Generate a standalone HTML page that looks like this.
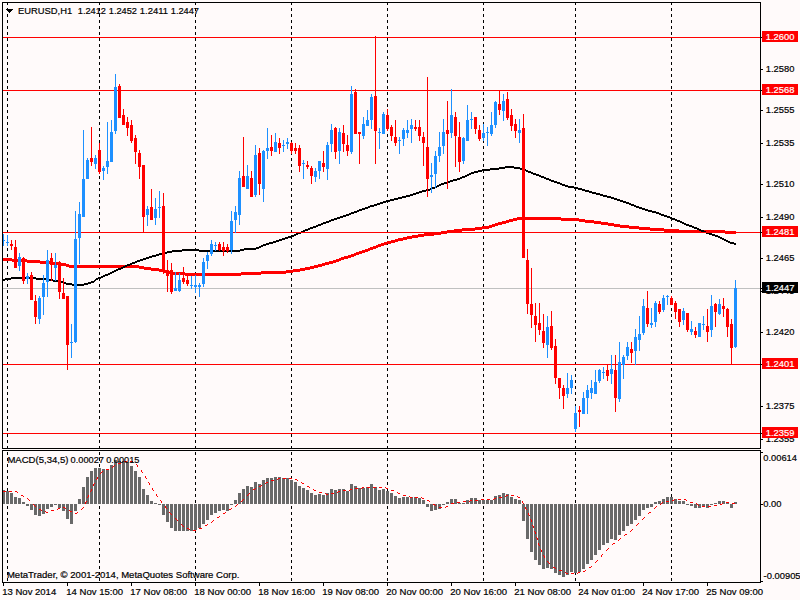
<!DOCTYPE html>
<html lang="en"><head><meta charset="utf-8"><title>EURUSD,H1</title>
<style>html,body{margin:0;padding:0;background:#FFFAFA;overflow:hidden}svg{display:block}text{font-family:'Liberation Sans', Arial, sans-serif;font-size:9.5px;fill:#000;stroke:#000;stroke-width:.2px}.w{fill:#fff;stroke:#fff}</style>
</head><body>
<svg width="800" height="600" viewBox="0 0 800 600">
<rect x="0" y="0" width="800" height="600" fill="#FFFAFA"/>
<g shape-rendering="crispEdges" fill="#000">
<path d="M7 3v2h1v-2zM7 8v3h1v-3zM7 14v3h1v-3zM7 20v3h1v-3zM7 26v3h1v-3zM7 32v3h1v-3zM7 38v3h1v-3zM7 44v3h1v-3zM7 50v3h1v-3zM7 56v3h1v-3zM7 62v3h1v-3zM7 68v3h1v-3zM7 74v3h1v-3zM7 80v3h1v-3zM7 86v3h1v-3zM7 92v3h1v-3zM7 98v3h1v-3zM7 104v3h1v-3zM7 110v3h1v-3zM7 116v3h1v-3zM7 122v3h1v-3zM7 128v3h1v-3zM7 134v3h1v-3zM7 140v3h1v-3zM7 146v3h1v-3zM7 152v3h1v-3zM7 158v3h1v-3zM7 164v3h1v-3zM7 170v3h1v-3zM7 176v3h1v-3zM7 182v3h1v-3zM7 188v3h1v-3zM7 194v3h1v-3zM7 200v3h1v-3zM7 206v3h1v-3zM7 212v3h1v-3zM7 218v3h1v-3zM7 224v3h1v-3zM7 230v3h1v-3zM7 236v3h1v-3zM7 242v3h1v-3zM7 248v3h1v-3zM7 254v3h1v-3zM7 260v3h1v-3zM7 266v3h1v-3zM7 272v3h1v-3zM7 278v3h1v-3zM7 284v3h1v-3zM7 290v3h1v-3zM7 296v3h1v-3zM7 302v3h1v-3zM7 308v3h1v-3zM7 314v3h1v-3zM7 320v3h1v-3zM7 326v3h1v-3zM7 332v3h1v-3zM7 338v3h1v-3zM7 344v3h1v-3zM7 350v3h1v-3zM7 356v3h1v-3zM7 362v3h1v-3zM7 368v3h1v-3zM7 374v3h1v-3zM7 380v3h1v-3zM7 386v3h1v-3zM7 392v3h1v-3zM7 398v3h1v-3zM7 404v3h1v-3zM7 410v3h1v-3zM7 416v3h1v-3zM7 422v3h1v-3zM7 428v3h1v-3zM7 434v3h1v-3zM7 440v3h1v-3zM7 446v2h1v-2zM7 452v3h1v-3zM7 458v3h1v-3zM7 464v3h1v-3zM7 470v3h1v-3zM7 476v3h1v-3zM7 482v3h1v-3zM7 488v3h1v-3zM7 494v3h1v-3zM7 500v3h1v-3zM7 506v3h1v-3zM7 512v3h1v-3zM7 518v3h1v-3zM7 524v3h1v-3zM7 530v3h1v-3zM7 536v3h1v-3zM7 542v3h1v-3zM7 548v3h1v-3zM7 554v3h1v-3zM7 560v3h1v-3zM7 566v3h1v-3zM7 572v3h1v-3zM7 578v3h1v-3zM99 3v2h1v-2zM99 8v3h1v-3zM99 14v3h1v-3zM99 20v3h1v-3zM99 26v3h1v-3zM99 32v3h1v-3zM99 38v3h1v-3zM99 44v3h1v-3zM99 50v3h1v-3zM99 56v3h1v-3zM99 62v3h1v-3zM99 68v3h1v-3zM99 74v3h1v-3zM99 80v3h1v-3zM99 86v3h1v-3zM99 92v3h1v-3zM99 98v3h1v-3zM99 104v3h1v-3zM99 110v3h1v-3zM99 116v3h1v-3zM99 122v3h1v-3zM99 128v3h1v-3zM99 134v3h1v-3zM99 140v3h1v-3zM99 146v3h1v-3zM99 152v3h1v-3zM99 158v3h1v-3zM99 164v3h1v-3zM99 170v3h1v-3zM99 176v3h1v-3zM99 182v3h1v-3zM99 188v3h1v-3zM99 194v3h1v-3zM99 200v3h1v-3zM99 206v3h1v-3zM99 212v3h1v-3zM99 218v3h1v-3zM99 224v3h1v-3zM99 230v3h1v-3zM99 236v3h1v-3zM99 242v3h1v-3zM99 248v3h1v-3zM99 254v3h1v-3zM99 260v3h1v-3zM99 266v3h1v-3zM99 272v3h1v-3zM99 278v3h1v-3zM99 284v3h1v-3zM99 290v3h1v-3zM99 296v3h1v-3zM99 302v3h1v-3zM99 308v3h1v-3zM99 314v3h1v-3zM99 320v3h1v-3zM99 326v3h1v-3zM99 332v3h1v-3zM99 338v3h1v-3zM99 344v3h1v-3zM99 350v3h1v-3zM99 356v3h1v-3zM99 362v3h1v-3zM99 368v3h1v-3zM99 374v3h1v-3zM99 380v3h1v-3zM99 386v3h1v-3zM99 392v3h1v-3zM99 398v3h1v-3zM99 404v3h1v-3zM99 410v3h1v-3zM99 416v3h1v-3zM99 422v3h1v-3zM99 428v3h1v-3zM99 434v3h1v-3zM99 440v3h1v-3zM99 446v2h1v-2zM99 452v3h1v-3zM99 458v3h1v-3zM99 464v3h1v-3zM99 470v3h1v-3zM99 476v3h1v-3zM99 482v3h1v-3zM99 488v3h1v-3zM99 494v3h1v-3zM99 500v3h1v-3zM99 506v3h1v-3zM99 512v3h1v-3zM99 518v3h1v-3zM99 524v3h1v-3zM99 530v3h1v-3zM99 536v3h1v-3zM99 542v3h1v-3zM99 548v3h1v-3zM99 554v3h1v-3zM99 560v3h1v-3zM99 566v3h1v-3zM99 572v3h1v-3zM99 578v3h1v-3zM195 3v2h1v-2zM195 8v3h1v-3zM195 14v3h1v-3zM195 20v3h1v-3zM195 26v3h1v-3zM195 32v3h1v-3zM195 38v3h1v-3zM195 44v3h1v-3zM195 50v3h1v-3zM195 56v3h1v-3zM195 62v3h1v-3zM195 68v3h1v-3zM195 74v3h1v-3zM195 80v3h1v-3zM195 86v3h1v-3zM195 92v3h1v-3zM195 98v3h1v-3zM195 104v3h1v-3zM195 110v3h1v-3zM195 116v3h1v-3zM195 122v3h1v-3zM195 128v3h1v-3zM195 134v3h1v-3zM195 140v3h1v-3zM195 146v3h1v-3zM195 152v3h1v-3zM195 158v3h1v-3zM195 164v3h1v-3zM195 170v3h1v-3zM195 176v3h1v-3zM195 182v3h1v-3zM195 188v3h1v-3zM195 194v3h1v-3zM195 200v3h1v-3zM195 206v3h1v-3zM195 212v3h1v-3zM195 218v3h1v-3zM195 224v3h1v-3zM195 230v3h1v-3zM195 236v3h1v-3zM195 242v3h1v-3zM195 248v3h1v-3zM195 254v3h1v-3zM195 260v3h1v-3zM195 266v3h1v-3zM195 272v3h1v-3zM195 278v3h1v-3zM195 284v3h1v-3zM195 290v3h1v-3zM195 296v3h1v-3zM195 302v3h1v-3zM195 308v3h1v-3zM195 314v3h1v-3zM195 320v3h1v-3zM195 326v3h1v-3zM195 332v3h1v-3zM195 338v3h1v-3zM195 344v3h1v-3zM195 350v3h1v-3zM195 356v3h1v-3zM195 362v3h1v-3zM195 368v3h1v-3zM195 374v3h1v-3zM195 380v3h1v-3zM195 386v3h1v-3zM195 392v3h1v-3zM195 398v3h1v-3zM195 404v3h1v-3zM195 410v3h1v-3zM195 416v3h1v-3zM195 422v3h1v-3zM195 428v3h1v-3zM195 434v3h1v-3zM195 440v3h1v-3zM195 446v2h1v-2zM195 452v3h1v-3zM195 458v3h1v-3zM195 464v3h1v-3zM195 470v3h1v-3zM195 476v3h1v-3zM195 482v3h1v-3zM195 488v3h1v-3zM195 494v3h1v-3zM195 500v3h1v-3zM195 506v3h1v-3zM195 512v3h1v-3zM195 518v3h1v-3zM195 524v3h1v-3zM195 530v3h1v-3zM195 536v3h1v-3zM195 542v3h1v-3zM195 548v3h1v-3zM195 554v3h1v-3zM195 560v3h1v-3zM195 566v3h1v-3zM195 572v3h1v-3zM195 578v3h1v-3zM291 3v2h1v-2zM291 8v3h1v-3zM291 14v3h1v-3zM291 20v3h1v-3zM291 26v3h1v-3zM291 32v3h1v-3zM291 38v3h1v-3zM291 44v3h1v-3zM291 50v3h1v-3zM291 56v3h1v-3zM291 62v3h1v-3zM291 68v3h1v-3zM291 74v3h1v-3zM291 80v3h1v-3zM291 86v3h1v-3zM291 92v3h1v-3zM291 98v3h1v-3zM291 104v3h1v-3zM291 110v3h1v-3zM291 116v3h1v-3zM291 122v3h1v-3zM291 128v3h1v-3zM291 134v3h1v-3zM291 140v3h1v-3zM291 146v3h1v-3zM291 152v3h1v-3zM291 158v3h1v-3zM291 164v3h1v-3zM291 170v3h1v-3zM291 176v3h1v-3zM291 182v3h1v-3zM291 188v3h1v-3zM291 194v3h1v-3zM291 200v3h1v-3zM291 206v3h1v-3zM291 212v3h1v-3zM291 218v3h1v-3zM291 224v3h1v-3zM291 230v3h1v-3zM291 236v3h1v-3zM291 242v3h1v-3zM291 248v3h1v-3zM291 254v3h1v-3zM291 260v3h1v-3zM291 266v3h1v-3zM291 272v3h1v-3zM291 278v3h1v-3zM291 284v3h1v-3zM291 290v3h1v-3zM291 296v3h1v-3zM291 302v3h1v-3zM291 308v3h1v-3zM291 314v3h1v-3zM291 320v3h1v-3zM291 326v3h1v-3zM291 332v3h1v-3zM291 338v3h1v-3zM291 344v3h1v-3zM291 350v3h1v-3zM291 356v3h1v-3zM291 362v3h1v-3zM291 368v3h1v-3zM291 374v3h1v-3zM291 380v3h1v-3zM291 386v3h1v-3zM291 392v3h1v-3zM291 398v3h1v-3zM291 404v3h1v-3zM291 410v3h1v-3zM291 416v3h1v-3zM291 422v3h1v-3zM291 428v3h1v-3zM291 434v3h1v-3zM291 440v3h1v-3zM291 446v2h1v-2zM291 452v3h1v-3zM291 458v3h1v-3zM291 464v3h1v-3zM291 470v3h1v-3zM291 476v3h1v-3zM291 482v3h1v-3zM291 488v3h1v-3zM291 494v3h1v-3zM291 500v3h1v-3zM291 506v3h1v-3zM291 512v3h1v-3zM291 518v3h1v-3zM291 524v3h1v-3zM291 530v3h1v-3zM291 536v3h1v-3zM291 542v3h1v-3zM291 548v3h1v-3zM291 554v3h1v-3zM291 560v3h1v-3zM291 566v3h1v-3zM291 572v3h1v-3zM291 578v3h1v-3zM387 3v2h1v-2zM387 8v3h1v-3zM387 14v3h1v-3zM387 20v3h1v-3zM387 26v3h1v-3zM387 32v3h1v-3zM387 38v3h1v-3zM387 44v3h1v-3zM387 50v3h1v-3zM387 56v3h1v-3zM387 62v3h1v-3zM387 68v3h1v-3zM387 74v3h1v-3zM387 80v3h1v-3zM387 86v3h1v-3zM387 92v3h1v-3zM387 98v3h1v-3zM387 104v3h1v-3zM387 110v3h1v-3zM387 116v3h1v-3zM387 122v3h1v-3zM387 128v3h1v-3zM387 134v3h1v-3zM387 140v3h1v-3zM387 146v3h1v-3zM387 152v3h1v-3zM387 158v3h1v-3zM387 164v3h1v-3zM387 170v3h1v-3zM387 176v3h1v-3zM387 182v3h1v-3zM387 188v3h1v-3zM387 194v3h1v-3zM387 200v3h1v-3zM387 206v3h1v-3zM387 212v3h1v-3zM387 218v3h1v-3zM387 224v3h1v-3zM387 230v3h1v-3zM387 236v3h1v-3zM387 242v3h1v-3zM387 248v3h1v-3zM387 254v3h1v-3zM387 260v3h1v-3zM387 266v3h1v-3zM387 272v3h1v-3zM387 278v3h1v-3zM387 284v3h1v-3zM387 290v3h1v-3zM387 296v3h1v-3zM387 302v3h1v-3zM387 308v3h1v-3zM387 314v3h1v-3zM387 320v3h1v-3zM387 326v3h1v-3zM387 332v3h1v-3zM387 338v3h1v-3zM387 344v3h1v-3zM387 350v3h1v-3zM387 356v3h1v-3zM387 362v3h1v-3zM387 368v3h1v-3zM387 374v3h1v-3zM387 380v3h1v-3zM387 386v3h1v-3zM387 392v3h1v-3zM387 398v3h1v-3zM387 404v3h1v-3zM387 410v3h1v-3zM387 416v3h1v-3zM387 422v3h1v-3zM387 428v3h1v-3zM387 434v3h1v-3zM387 440v3h1v-3zM387 446v2h1v-2zM387 452v3h1v-3zM387 458v3h1v-3zM387 464v3h1v-3zM387 470v3h1v-3zM387 476v3h1v-3zM387 482v3h1v-3zM387 488v3h1v-3zM387 494v3h1v-3zM387 500v3h1v-3zM387 506v3h1v-3zM387 512v3h1v-3zM387 518v3h1v-3zM387 524v3h1v-3zM387 530v3h1v-3zM387 536v3h1v-3zM387 542v3h1v-3zM387 548v3h1v-3zM387 554v3h1v-3zM387 560v3h1v-3zM387 566v3h1v-3zM387 572v3h1v-3zM387 578v3h1v-3zM483 3v2h1v-2zM483 8v3h1v-3zM483 14v3h1v-3zM483 20v3h1v-3zM483 26v3h1v-3zM483 32v3h1v-3zM483 38v3h1v-3zM483 44v3h1v-3zM483 50v3h1v-3zM483 56v3h1v-3zM483 62v3h1v-3zM483 68v3h1v-3zM483 74v3h1v-3zM483 80v3h1v-3zM483 86v3h1v-3zM483 92v3h1v-3zM483 98v3h1v-3zM483 104v3h1v-3zM483 110v3h1v-3zM483 116v3h1v-3zM483 122v3h1v-3zM483 128v3h1v-3zM483 134v3h1v-3zM483 140v3h1v-3zM483 146v3h1v-3zM483 152v3h1v-3zM483 158v3h1v-3zM483 164v3h1v-3zM483 170v3h1v-3zM483 176v3h1v-3zM483 182v3h1v-3zM483 188v3h1v-3zM483 194v3h1v-3zM483 200v3h1v-3zM483 206v3h1v-3zM483 212v3h1v-3zM483 218v3h1v-3zM483 224v3h1v-3zM483 230v3h1v-3zM483 236v3h1v-3zM483 242v3h1v-3zM483 248v3h1v-3zM483 254v3h1v-3zM483 260v3h1v-3zM483 266v3h1v-3zM483 272v3h1v-3zM483 278v3h1v-3zM483 284v3h1v-3zM483 290v3h1v-3zM483 296v3h1v-3zM483 302v3h1v-3zM483 308v3h1v-3zM483 314v3h1v-3zM483 320v3h1v-3zM483 326v3h1v-3zM483 332v3h1v-3zM483 338v3h1v-3zM483 344v3h1v-3zM483 350v3h1v-3zM483 356v3h1v-3zM483 362v3h1v-3zM483 368v3h1v-3zM483 374v3h1v-3zM483 380v3h1v-3zM483 386v3h1v-3zM483 392v3h1v-3zM483 398v3h1v-3zM483 404v3h1v-3zM483 410v3h1v-3zM483 416v3h1v-3zM483 422v3h1v-3zM483 428v3h1v-3zM483 434v3h1v-3zM483 440v3h1v-3zM483 446v2h1v-2zM483 452v3h1v-3zM483 458v3h1v-3zM483 464v3h1v-3zM483 470v3h1v-3zM483 476v3h1v-3zM483 482v3h1v-3zM483 488v3h1v-3zM483 494v3h1v-3zM483 500v3h1v-3zM483 506v3h1v-3zM483 512v3h1v-3zM483 518v3h1v-3zM483 524v3h1v-3zM483 530v3h1v-3zM483 536v3h1v-3zM483 542v3h1v-3zM483 548v3h1v-3zM483 554v3h1v-3zM483 560v3h1v-3zM483 566v3h1v-3zM483 572v3h1v-3zM483 578v3h1v-3zM575 3v2h1v-2zM575 8v3h1v-3zM575 14v3h1v-3zM575 20v3h1v-3zM575 26v3h1v-3zM575 32v3h1v-3zM575 38v3h1v-3zM575 44v3h1v-3zM575 50v3h1v-3zM575 56v3h1v-3zM575 62v3h1v-3zM575 68v3h1v-3zM575 74v3h1v-3zM575 80v3h1v-3zM575 86v3h1v-3zM575 92v3h1v-3zM575 98v3h1v-3zM575 104v3h1v-3zM575 110v3h1v-3zM575 116v3h1v-3zM575 122v3h1v-3zM575 128v3h1v-3zM575 134v3h1v-3zM575 140v3h1v-3zM575 146v3h1v-3zM575 152v3h1v-3zM575 158v3h1v-3zM575 164v3h1v-3zM575 170v3h1v-3zM575 176v3h1v-3zM575 182v3h1v-3zM575 188v3h1v-3zM575 194v3h1v-3zM575 200v3h1v-3zM575 206v3h1v-3zM575 212v3h1v-3zM575 218v3h1v-3zM575 224v3h1v-3zM575 230v3h1v-3zM575 236v3h1v-3zM575 242v3h1v-3zM575 248v3h1v-3zM575 254v3h1v-3zM575 260v3h1v-3zM575 266v3h1v-3zM575 272v3h1v-3zM575 278v3h1v-3zM575 284v3h1v-3zM575 290v3h1v-3zM575 296v3h1v-3zM575 302v3h1v-3zM575 308v3h1v-3zM575 314v3h1v-3zM575 320v3h1v-3zM575 326v3h1v-3zM575 332v3h1v-3zM575 338v3h1v-3zM575 344v3h1v-3zM575 350v3h1v-3zM575 356v3h1v-3zM575 362v3h1v-3zM575 368v3h1v-3zM575 374v3h1v-3zM575 380v3h1v-3zM575 386v3h1v-3zM575 392v3h1v-3zM575 398v3h1v-3zM575 404v3h1v-3zM575 410v3h1v-3zM575 416v3h1v-3zM575 422v3h1v-3zM575 428v3h1v-3zM575 434v3h1v-3zM575 440v3h1v-3zM575 446v2h1v-2zM575 452v3h1v-3zM575 458v3h1v-3zM575 464v3h1v-3zM575 470v3h1v-3zM575 476v3h1v-3zM575 482v3h1v-3zM575 488v3h1v-3zM575 494v3h1v-3zM575 500v3h1v-3zM575 506v3h1v-3zM575 512v3h1v-3zM575 518v3h1v-3zM575 524v3h1v-3zM575 530v3h1v-3zM575 536v3h1v-3zM575 542v3h1v-3zM575 548v3h1v-3zM575 554v3h1v-3zM575 560v3h1v-3zM575 566v3h1v-3zM575 572v3h1v-3zM575 578v3h1v-3zM671 3v2h1v-2zM671 8v3h1v-3zM671 14v3h1v-3zM671 20v3h1v-3zM671 26v3h1v-3zM671 32v3h1v-3zM671 38v3h1v-3zM671 44v3h1v-3zM671 50v3h1v-3zM671 56v3h1v-3zM671 62v3h1v-3zM671 68v3h1v-3zM671 74v3h1v-3zM671 80v3h1v-3zM671 86v3h1v-3zM671 92v3h1v-3zM671 98v3h1v-3zM671 104v3h1v-3zM671 110v3h1v-3zM671 116v3h1v-3zM671 122v3h1v-3zM671 128v3h1v-3zM671 134v3h1v-3zM671 140v3h1v-3zM671 146v3h1v-3zM671 152v3h1v-3zM671 158v3h1v-3zM671 164v3h1v-3zM671 170v3h1v-3zM671 176v3h1v-3zM671 182v3h1v-3zM671 188v3h1v-3zM671 194v3h1v-3zM671 200v3h1v-3zM671 206v3h1v-3zM671 212v3h1v-3zM671 218v3h1v-3zM671 224v3h1v-3zM671 230v3h1v-3zM671 236v3h1v-3zM671 242v3h1v-3zM671 248v3h1v-3zM671 254v3h1v-3zM671 260v3h1v-3zM671 266v3h1v-3zM671 272v3h1v-3zM671 278v3h1v-3zM671 284v3h1v-3zM671 290v3h1v-3zM671 296v3h1v-3zM671 302v3h1v-3zM671 308v3h1v-3zM671 314v3h1v-3zM671 320v3h1v-3zM671 326v3h1v-3zM671 332v3h1v-3zM671 338v3h1v-3zM671 344v3h1v-3zM671 350v3h1v-3zM671 356v3h1v-3zM671 362v3h1v-3zM671 368v3h1v-3zM671 374v3h1v-3zM671 380v3h1v-3zM671 386v3h1v-3zM671 392v3h1v-3zM671 398v3h1v-3zM671 404v3h1v-3zM671 410v3h1v-3zM671 416v3h1v-3zM671 422v3h1v-3zM671 428v3h1v-3zM671 434v3h1v-3zM671 440v3h1v-3zM671 446v2h1v-2zM671 452v3h1v-3zM671 458v3h1v-3zM671 464v3h1v-3zM671 470v3h1v-3zM671 476v3h1v-3zM671 482v3h1v-3zM671 488v3h1v-3zM671 494v3h1v-3zM671 500v3h1v-3zM671 506v3h1v-3zM671 512v3h1v-3zM671 518v3h1v-3zM671 524v3h1v-3zM671 530v3h1v-3zM671 536v3h1v-3zM671 542v3h1v-3zM671 548v3h1v-3zM671 554v3h1v-3zM671 560v3h1v-3zM671 566v3h1v-3zM671 572v3h1v-3zM671 578v3h1v-3z"/>
</g>
<g shape-rendering="crispEdges">
<path fill="#FF0000" d="M3 258h9v3h-9zM12 259h15v3h-15zM27 260h13v3h-13zM40 261h11v3h-11zM51 262h10v3h-10zM61 263h5v3h-5zM66 264h3v3h-3zM69 265h70v3h-70zM139 266h5v3h-5zM144 267h7v3h-7zM151 268h8v3h-8zM159 269h5v3h-5zM164 270h4v3h-4zM168 271h4v3h-4zM172 272h13v3h-13zM185 273h56v3h-56zM241 272h20v3h-20zM261 271h25v3h-25zM286 270h7v3h-7zM293 269h7v3h-7zM300 268h5v3h-5zM305 267h5v3h-5zM310 266h4v3h-4zM314 265h4v3h-4zM318 264h4v3h-4zM322 263h3v3h-3zM325 262h4v3h-4zM329 261h4v3h-4zM333 260h3v3h-3zM336 259h3v3h-3zM339 258h2v3h-2zM341 257h3v3h-3zM344 256h4v3h-4zM348 255h3v3h-3zM351 254h3v3h-3zM354 253h2v3h-2zM356 252h3v3h-3zM359 251h3v3h-3zM362 250h3v3h-3zM365 249h3v3h-3zM368 248h2v3h-2zM370 247h3v3h-3zM373 246h3v3h-3zM376 245h2v3h-2zM378 244h3v3h-3zM381 243h3v3h-3zM384 242h3v3h-3zM387 241h4v3h-4zM391 240h4v3h-4zM395 239h3v3h-3zM398 238h5v3h-5zM403 237h4v3h-4zM407 236h5v3h-5zM412 235h6v3h-6zM418 234h6v3h-6zM424 233h10v3h-10zM434 232h7v3h-7zM441 231h6v3h-6zM447 230h7v3h-7zM454 229h8v3h-8zM462 228h13v3h-13zM475 227h7v3h-7zM482 226h7v3h-7zM489 225h3v3h-3zM492 224h3v3h-3zM495 223h3v3h-3zM498 222h4v3h-4zM502 221h4v3h-4zM506 220h3v3h-3zM509 219h4v3h-4zM513 218h4v3h-4zM517 217h44v3h-44zM561 218h18v3h-18zM579 219h6v3h-6zM585 220h9v3h-9zM594 221h7v3h-7zM601 222h7v3h-7zM608 223h6v3h-6zM614 224h6v3h-6zM620 225h9v3h-9zM629 226h10v3h-10zM639 227h11v3h-11zM650 228h14v3h-14zM664 229h15v3h-15zM679 230h46v3h-46zM725 231h11v3h-11z"/>
<path fill="#000" d="M3 279h2v2h-2zM5 278h6v2h-6zM11 277h25v2h-25zM36 278h10v2h-10zM46 279h7v2h-7zM53 280h5v2h-5zM58 281h5v2h-5zM63 282h3v2h-3zM66 283h6v2h-6zM72 284h12v2h-12zM84 283h4v2h-4zM88 282h3v2h-3zM91 281h3v2h-3zM94 280h1v2h-1zM95 279h1v2h-1zM96 278h2v2h-2zM98 277h3v2h-3zM101 276h2v2h-2zM103 275h2v2h-2zM105 274h3v2h-3zM108 273h2v2h-2zM110 272h2v2h-2zM112 271h2v2h-2zM114 270h2v2h-2zM116 269h2v2h-2zM118 268h3v2h-3zM121 267h2v2h-2zM123 266h2v2h-2zM125 265h2v2h-2zM127 264h3v2h-3zM130 263h2v2h-2zM132 262h3v2h-3zM135 261h2v2h-2zM137 260h3v2h-3zM140 259h3v2h-3zM143 258h3v2h-3zM146 257h3v2h-3zM149 256h3v2h-3zM152 255h4v2h-4zM156 254h3v2h-3zM159 253h4v2h-4zM163 252h4v2h-4zM167 251h5v2h-5zM172 250h10v2h-10zM182 249h17v2h-17zM199 250h41v2h-41zM240 249h4v2h-4zM244 248h12v2h-12zM256 247h3v2h-3zM259 246h2v2h-2zM261 245h2v2h-2zM263 244h3v2h-3zM266 243h3v2h-3zM269 242h4v2h-4zM273 241h3v2h-3zM276 240h3v2h-3zM279 239h3v2h-3zM282 238h3v2h-3zM285 237h3v2h-3zM288 236h3v2h-3zM291 235h3v2h-3zM294 234h2v2h-2zM296 233h2v2h-2zM298 232h3v2h-3zM301 231h2v2h-2zM303 230h2v2h-2zM305 229h3v2h-3zM308 228h2v2h-2zM310 227h3v2h-3zM313 226h3v2h-3zM316 225h2v2h-2zM318 224h3v2h-3zM321 223h2v2h-2zM323 222h3v2h-3zM326 221h3v2h-3zM329 220h2v2h-2zM331 219h3v2h-3zM334 218h3v2h-3zM337 217h3v2h-3zM340 216h3v2h-3zM343 215h3v2h-3zM346 214h3v2h-3zM349 213h2v2h-2zM351 212h3v2h-3zM354 211h3v2h-3zM357 210h2v2h-2zM359 209h3v2h-3zM362 208h3v2h-3zM365 207h3v2h-3zM368 206h2v2h-2zM370 205h4v2h-4zM374 204h3v2h-3zM377 203h3v2h-3zM380 202h3v2h-3zM383 201h3v2h-3zM386 200h4v2h-4zM390 199h4v2h-4zM394 198h4v2h-4zM398 197h4v2h-4zM402 196h4v2h-4zM406 195h4v2h-4zM410 194h3v2h-3zM413 193h3v2h-3zM416 192h3v2h-3zM419 191h3v2h-3zM422 190h4v2h-4zM426 189h4v2h-4zM430 188h2v2h-2zM432 187h3v2h-3zM435 186h2v2h-2zM437 185h2v2h-2zM439 184h2v2h-2zM441 183h3v2h-3zM444 182h3v2h-3zM447 181h3v2h-3zM450 180h3v2h-3zM453 179h4v2h-4zM457 178h3v2h-3zM460 177h2v2h-2zM462 176h3v2h-3zM465 175h2v2h-2zM467 174h2v2h-2zM469 173h2v2h-2zM471 172h3v2h-3zM474 171h4v2h-4zM478 170h4v2h-4zM482 169h8v2h-8zM490 168h9v2h-9zM499 167h6v2h-6zM505 166h9v2h-9zM514 167h6v2h-6zM520 168h4v2h-4zM524 169h2v2h-2zM526 170h2v2h-2zM528 171h3v2h-3zM531 172h2v2h-2zM533 173h3v2h-3zM536 174h3v2h-3zM539 175h2v2h-2zM541 176h3v2h-3zM544 177h2v2h-2zM546 178h3v2h-3zM549 179h2v2h-2zM551 180h3v2h-3zM554 181h3v2h-3zM557 182h3v2h-3zM560 183h2v2h-2zM562 184h3v2h-3zM565 185h3v2h-3zM568 186h6v2h-6zM574 187h4v2h-4zM578 188h4v2h-4zM582 189h3v2h-3zM585 190h4v2h-4zM589 191h3v2h-3zM592 192h4v2h-4zM596 193h4v2h-4zM600 194h3v2h-3zM603 195h4v2h-4zM607 196h4v2h-4zM611 197h3v2h-3zM614 198h3v2h-3zM617 199h3v2h-3zM620 200h3v2h-3zM623 201h3v2h-3zM626 202h3v2h-3zM629 203h2v2h-2zM631 204h3v2h-3zM634 205h2v2h-2zM636 206h3v2h-3zM639 207h3v2h-3zM642 208h3v2h-3zM645 209h3v2h-3zM648 210h4v2h-4zM652 211h4v2h-4zM656 212h3v2h-3zM659 213h2v2h-2zM661 214h3v2h-3zM664 215h3v2h-3zM667 216h3v2h-3zM670 217h2v2h-2zM672 218h3v2h-3zM675 219h2v2h-2zM677 220h3v2h-3zM680 221h2v2h-2zM682 222h2v2h-2zM684 223h2v2h-2zM686 224h3v2h-3zM689 225h3v2h-3zM692 226h2v2h-2zM694 227h3v2h-3zM697 228h2v2h-2zM699 229h2v2h-2zM701 230h3v2h-3zM704 231h2v2h-2zM706 232h3v2h-3zM709 233h3v2h-3zM712 234h3v2h-3zM715 235h3v2h-3zM718 236h2v2h-2zM720 237h2v2h-2zM722 238h2v2h-2zM724 239h2v2h-2zM726 240h2v2h-2zM728 241h2v2h-2zM730 242h4v2h-4zM734 243h2v2h-2z"/>
</g>
<g shape-rendering="crispEdges">
<rect x="3" y="288" width="757" height="1" fill="#C0C0C0"/>
<rect x="3" y="37" width="757" height="1" fill="#FF0000"/>
<rect x="3" y="90" width="757" height="1" fill="#FF0000"/>
<rect x="3" y="232" width="757" height="1" fill="#FF0000"/>
<rect x="3" y="364" width="757" height="1" fill="#FF0000"/>
<rect x="3" y="433" width="757" height="1" fill="#FF0000"/>
</g>
<g shape-rendering="crispEdges">
<path fill="#1E90FF" d="M3 234v12h1v-12zM2 240v1h3v-1zM7 235v11h1v-11zM6 242v1h3v-1zM19 253v18h1v-18zM18 257v9h3v-9zM27 273v11h1v-11zM26 276v3h3v-3zM39 296v28h1v-28zM38 298v21h3v-21zM43 275v40h1v-40zM42 283v14h3v-14zM47 250v47h1v-47zM46 260v22h3v-22zM55 253v28h1v-28zM54 265v3h3v-3zM71 324v34h1v-34zM70 342v1h3v-1zM75 211v132h1v-132zM74 239v103h3v-103zM79 202v62h1v-62zM78 214v24h3v-24zM83 130v87h1v-87zM82 179v38h3v-38zM87 158v21h1v-21zM86 160v19h3v-19zM95 155v14h1v-14zM94 158v6h3v-6zM103 166v14h1v-14zM102 168v3h3v-3zM107 122v52h1v-52zM106 161v6h3v-6zM111 120v42h1v-42zM110 132v30h3v-30zM115 74v60h1v-60zM114 87v44h3v-44zM147 206v20h1v-20zM146 209v6h3v-6zM155 198v27h1v-27zM154 209v9h3v-9zM159 191v27h1v-27zM158 207v1h3v-1zM175 272v19h1v-19zM174 288v3h3v-3zM179 273v19h1v-19zM178 280v11h3v-11zM191 276v13h1v-13zM190 285v1h3v-1zM195 275v18h1v-18zM194 285v2h3v-2zM199 283v14h1v-14zM198 285v2h3v-2zM203 258v29h1v-29zM202 262v22h3v-22zM207 252v17h1v-17zM206 255v6h3v-6zM211 240v16h1v-16zM210 244v10h3v-10zM215 242v9h1v-9zM214 245v1h3v-1zM231 211v43h1v-43zM230 221v29h3v-29zM235 206v27h1v-27zM234 212v8h3v-8zM239 171v54h1v-54zM238 178v37h3v-37zM247 165v24h1v-24zM246 176v13h3v-13zM255 145v52h1v-52zM254 155v40h3v-40zM263 150v52h1v-52zM262 151v38h3v-38zM267 128v31h1v-31zM266 148v3h3v-3zM275 133v19h1v-19zM274 142v10h3v-10zM283 140v12h1v-12zM282 145v1h3v-1zM287 138v11h1v-11zM286 142v2h3v-2zM303 160v19h1v-19zM302 163v1h3v-1zM315 168v14h1v-14zM314 171v6h3v-6zM319 161v18h1v-18zM318 161v10h3v-10zM327 142v38h1v-38zM326 145v24h3v-24zM331 124v28h1v-28zM330 130v14h3v-14zM339 128v36h1v-36zM338 132v19h3v-19zM351 86v68h1v-68zM350 94v58h3v-58zM363 117v22h1v-22zM362 124v12h3v-12zM367 110v16h1v-16zM366 120v6h3v-6zM371 94v35h1v-35zM370 97v23h3v-23zM379 128v21h1v-21zM378 132v1h3v-1zM383 112v22h1v-22zM382 114v20h3v-20zM399 137v17h1v-17zM398 140v1h3v-1zM403 128v18h1v-18zM402 130v9h3v-9zM407 120v18h1v-18zM406 130v3h3v-3zM411 119v24h1v-24zM410 125v4h3v-4zM431 163v30h1v-30zM430 175v2h3v-2zM435 151v37h1v-37zM434 156v18h3v-18zM439 132v30h1v-30zM438 147v9h3v-9zM443 119v35h1v-35zM442 132v14h3v-14zM451 89v49h1v-49zM450 115v18h3v-18zM463 137v27h1v-27zM462 138v23h3v-23zM467 105v36h1v-36zM466 120v21h3v-21zM471 112v17h1v-17zM470 119v1h3v-1zM483 124v17h1v-17zM482 133v5h3v-5zM487 127v19h1v-19zM486 132v1h3v-1zM491 112v24h1v-24zM490 125v9h3v-9zM495 101v27h1v-27zM494 102v23h3v-23zM503 94v27h1v-27zM502 101v10h3v-10zM519 119v24h1v-24zM518 130v3h3v-3zM547 316v42h1v-42zM546 327v18h3v-18zM567 373v25h1v-25zM566 388v6h3v-6zM571 375v19h1v-19zM570 380v8h3v-8zM575 406v26h1v-26zM574 413v16h3v-16zM583 392v22h1v-22zM582 398v16h3v-16zM587 385v29h1v-29zM586 390v8h3v-8zM591 380v19h1v-19zM590 388v5h3v-5zM595 370v24h1v-24zM594 382v12h3v-12zM599 369v14h1v-14zM598 370v11h3v-11zM603 367v12h1v-12zM602 372v1h3v-1zM611 355v29h1v-29zM610 369v5h3v-5zM619 342v60h1v-60zM618 362v37h3v-37zM623 355v24h1v-24zM622 357v8h3v-8zM627 342v18h1v-18zM626 347v9h3v-9zM635 329v36h1v-36zM634 337v14h3v-14zM639 316v35h1v-35zM638 334v6h3v-6zM643 299v36h1v-36zM642 306v27h3v-27zM651 308v20h1v-20zM650 323v2h3v-2zM655 301v26h1v-26zM654 303v19h3v-19zM663 295v17h1v-17zM662 298v12h3v-12zM667 295v10h1v-10zM666 296v1h3v-1zM683 308v17h1v-17zM682 311v9h3v-9zM691 321v14h1v-14zM690 329v3h3v-3zM699 323v14h1v-14zM698 323v14h3v-14zM703 316v14h1v-14zM702 324v1h3v-1zM711 295v42h1v-42zM710 306v24h3v-24zM719 299v16h1v-16zM718 304v10h3v-10zM735 280v68h1v-68zM734 288v59h3v-59z"/>
<path fill="#FF0000" d="M11 240v10h1v-10zM10 244v2h3v-2zM15 240v28h1v-28zM14 247v21h3v-21zM23 257v27h1v-27zM22 258v23h3v-23zM31 272v28h1v-28zM30 275v25h3v-25zM35 295v29h1v-29zM34 301v16h3v-16zM51 253v28h1v-28zM50 258v7h3v-7zM59 261v38h1v-38zM58 262v30h3v-30zM63 278v21h1v-21zM62 293v6h3v-6zM67 296v74h1v-74zM66 296v49h3v-49zM91 127v39h1v-39zM90 158v4h3v-4zM99 143v31h1v-31zM98 150v22h3v-22zM119 84v34h1v-34zM118 86v32h3v-32zM123 109v16h1v-16zM122 115v10h3v-10zM127 117v19h1v-19zM126 122v6h3v-6zM131 120v23h1v-23zM130 125v16h3v-16zM135 135v29h1v-29zM134 138v14h3v-14zM139 150v29h1v-29zM138 153v14h3v-14zM143 165v68h1v-68zM142 165v52h3v-52zM151 189v31h1v-31zM150 207v13h3v-13zM163 193v81h1v-81zM162 206v65h3v-65zM167 260v32h1v-32zM166 270v6h3v-6zM171 263v31h1v-31zM170 270v22h3v-22zM183 267v17h1v-17zM182 278v4h3v-4zM187 276v10h1v-10zM186 280v4h3v-4zM219 242v9h1v-9zM218 244v6h3v-6zM223 242v14h1v-14zM222 247v4h3v-4zM227 244v9h1v-9zM226 247v4h3v-4zM243 137v50h1v-50zM242 176v11h3v-11zM251 171v26h1v-26zM250 178v19h3v-19zM259 148v47h1v-47zM258 153v31h3v-31zM271 135v21h1v-21zM270 147v4h3v-4zM279 138v16h1v-16zM278 143v5h3v-5zM291 142v12h1v-12zM290 143v8h3v-8zM295 143v11h1v-11zM294 148v3h3v-3zM299 145v27h1v-27zM298 148v18h3v-18zM307 161v8h1v-8zM306 165v2h3v-2zM311 166v18h1v-18zM310 168v8h3v-8zM323 151v21h1v-21zM322 163v4h3v-4zM335 127v32h1v-32zM334 128v24h3v-24zM343 125v27h1v-27zM342 133v11h3v-11zM347 135v21h1v-21zM346 145v6h3v-6zM355 89v45h1v-45zM354 92v42h3v-42zM359 132v32h1v-32zM358 132v2h3v-2zM375 36v128h1v-128zM374 96v35h3v-35zM387 109v22h1v-22zM386 115v14h3v-14zM391 125v16h1v-16zM390 127v9h3v-9zM395 120v26h1v-26zM394 137v6h3v-6zM415 120v11h1v-11zM414 127v2h3v-2zM419 120v21h1v-21zM418 127v9h3v-9zM423 132v34h1v-34zM422 137v6h3v-6zM427 77v120h1v-120zM426 147v32h3v-32zM447 101v88h1v-88zM446 130v4h3v-4zM455 112v55h1v-55zM454 117v19h3v-19zM459 122v50h1v-50zM458 137v25h3v-25zM475 117v17h1v-17zM474 117v12h3v-12zM479 125v16h1v-16zM478 130v9h3v-9zM499 91v24h1v-24zM498 104v6h3v-6zM507 92v28h1v-28zM506 99v19h3v-19zM511 109v22h1v-22zM510 115v11h3v-11zM515 119v19h1v-19zM514 124v7h3v-7zM523 114v144h1v-144zM522 128v130h3v-130zM527 249v65h1v-65zM526 260v44h3v-44zM531 268v60h1v-60zM530 304v11h3v-11zM535 303v39h1v-39zM534 316v9h3v-9zM539 303v32h1v-32zM538 323v7h3v-7zM543 314v34h1v-34zM542 331v12h3v-12zM551 311v39h1v-39zM550 326v22h3v-22zM555 339v45h1v-45zM554 346v32h3v-32zM559 378v21h1v-21zM558 378v10h3v-10zM563 385v24h1v-24zM562 388v8h3v-8zM579 406v21h1v-21zM578 410v2h3v-2zM607 365v16h1v-16zM606 370v6h3v-6zM615 355v57h1v-57zM614 370v28h3v-28zM631 342v21h1v-21zM630 349v4h3v-4zM647 291v36h1v-36zM646 308v16h3v-16zM659 301v13h1v-13zM658 304v8h3v-8zM671 296v9h1v-9zM670 298v7h3v-7zM675 301v18h1v-18zM674 303v9h3v-9zM679 309v18h1v-18zM678 309v13h3v-13zM687 313v19h1v-19zM686 313v17h3v-17zM695 327v11h1v-11zM694 331v4h3v-4zM707 309v33h1v-33zM706 326v6h3v-6zM715 303v24h1v-24zM714 304v8h3v-8zM723 298v19h1v-19zM722 306v3h3v-3zM727 308v29h1v-29zM726 309v18h3v-18zM731 319v46h1v-46zM730 324v24h3v-24z"/>
</g>
<g shape-rendering="crispEdges">
<path fill="#696969" d="M2 490v14h3v-14zM6 491v13h3v-13zM10 493v11h3v-11zM14 497v7h3v-7zM18 498v6h3v-6zM22 502v2h3v-2zM26 504v2h3v-2zM30 504v6h3v-6zM34 504v11h3v-11zM38 504v12h3v-12zM42 504v10h3v-10zM46 504v5h3v-5zM50 504v3h3v-3zM54 504v1h3v-1zM58 504v4h3v-4zM62 504v7h3v-7zM66 504v15h3v-15zM70 504v20h3v-20zM74 504v7h3v-7zM78 499v5h3v-5zM82 487v17h3v-17zM86 477v27h3v-27zM90 471v33h3v-33zM94 468v36h3v-36zM98 468v36h3v-36zM102 469v35h3v-35zM106 469v35h3v-35zM110 465v39h3v-39zM114 460v44h3v-44zM118 461v43h3v-43zM122 461v43h3v-43zM126 462v42h3v-42zM130 466v38h3v-38zM134 471v33h3v-33zM138 477v27h3v-27zM142 489v15h3v-15zM146 495v9h3v-9zM150 501v3h3v-3zM154 503v1h3v-1zM158 504v1h3v-1zM162 504v11h3v-11zM166 504v18h3v-18zM170 504v24h3v-24zM174 504v27h3v-27zM178 504v27h3v-27zM182 504v27h3v-27zM186 504v27h3v-27zM190 504v27h3v-27zM194 504v26h3v-26zM198 504v24h3v-24zM202 504v20h3v-20zM206 504v16h3v-16zM210 504v11h3v-11zM214 504v9h3v-9zM218 504v7h3v-7zM222 504v6h3v-6zM226 504v7h3v-7zM230 504v1h3v-1zM234 500v4h3v-4zM238 493v11h3v-11zM242 489v15h3v-15zM246 486v18h3v-18zM250 487v17h3v-17zM254 482v22h3v-22zM258 484v20h3v-20zM262 480v24h3v-24zM266 478v26h3v-26zM270 478v26h3v-26zM274 477v27h3v-27zM278 477v27h3v-27zM282 478v26h3v-26zM286 478v26h3v-26zM290 480v24h3v-24zM294 482v22h3v-22zM298 486v18h3v-18zM302 488v16h3v-16zM306 490v14h3v-14zM310 493v11h3v-11zM314 495v9h3v-9zM318 494v10h3v-10zM322 495v9h3v-9zM326 493v11h3v-11zM330 489v15h3v-15zM334 490v14h3v-14zM338 489v15h3v-15zM342 489v15h3v-15zM346 491v13h3v-13zM350 484v20h3v-20zM354 486v18h3v-18zM358 488v16h3v-16zM362 488v16h3v-16zM366 487v17h3v-17zM370 484v20h3v-20zM374 487v17h3v-17zM378 490v14h3v-14zM382 489v15h3v-15zM386 491v13h3v-13zM390 493v11h3v-11zM394 496v8h3v-8zM398 498v6h3v-6zM402 497v7h3v-7zM406 497v7h3v-7zM410 497v7h3v-7zM414 497v7h3v-7zM418 498v6h3v-6zM422 500v4h3v-4zM426 504v3h3v-3zM430 504v7h3v-7zM434 504v6h3v-6zM438 504v5h3v-5zM442 504v1h3v-1zM446 502v2h3v-2zM450 499v5h3v-5zM454 499v5h3v-5zM458 503v1h3v-1zM462 503v1h3v-1zM466 500v4h3v-4zM470 498v6h3v-6zM474 498v6h3v-6zM478 500v4h3v-4zM482 500v4h3v-4zM486 500v4h3v-4zM490 500v4h3v-4zM494 496v8h3v-8zM498 495v9h3v-9zM502 493v11h3v-11zM506 494v10h3v-10zM510 497v7h3v-7zM514 499v5h3v-5zM518 500v4h3v-4zM522 504v17h3v-17zM526 504v35h3v-35zM530 504v48h3v-48zM534 504v56h3v-56zM538 504v61h3v-61zM542 504v65h3v-65zM546 504v64h3v-64zM550 504v65h3v-65zM554 504v69h3v-69zM558 504v71h3v-71zM562 504v73h3v-73zM566 504v71h3v-71zM570 504v68h3v-68zM574 504v69h3v-69zM578 504v68h3v-68zM582 504v65h3v-65zM586 504v60h3v-60zM590 504v56h3v-56zM594 504v51h3v-51zM598 504v46h3v-46zM602 504v41h3v-41zM606 504v39h3v-39zM610 504v35h3v-35zM614 504v36h3v-36zM618 504v31h3v-31zM622 504v27h3v-27zM626 504v22h3v-22zM630 504v20h3v-20zM634 504v16h3v-16zM638 504v12h3v-12zM642 504v6h3v-6zM646 504v4h3v-4zM650 504v3h3v-3zM654 502v2h3v-2zM658 501v3h3v-3zM662 499v5h3v-5zM666 497v7h3v-7zM670 497v7h3v-7zM674 499v5h3v-5zM678 501v3h3v-3zM682 501v3h3v-3zM686 504v1h3v-1zM690 504v2h3v-2zM694 504v4h3v-4zM698 504v4h3v-4zM702 504v3h3v-3zM706 504v4h3v-4zM710 504v1h3v-1zM714 503v1h3v-1zM718 501v3h3v-3zM722 501v3h3v-3zM726 502v2h3v-2zM730 504v4h3v-4zM734 502v2h3v-2z"/>
</g>
<path shape-rendering="crispEdges" fill="#FF0000" d="M124 461h3v1h-3zM130 461h3v1h-3zM118 463h3v1h-3zM136 464h1v1h-1zM114 465h1v1h-1zM137 465h1v1h-1zM113 466h1v1h-1zM137 466h1v1h-1zM112 467h1v1h-1zM106 469h3v1h-3zM141 470h1v1h-1zM102 471h1v1h-1zM141 471h1v1h-1zM101 472h1v1h-1zM142 472h1v1h-1zM100 473h1v1h-1zM145 476h1v1h-1zM97 477h1v1h-1zM145 477h1v1h-1zM97 478h1v1h-1zM146 478h1v1h-1zM278 478h2v1h-2zM283 478h3v1h-3zM289 478h3v1h-3zM96 479h1v1h-1zM277 479h1v1h-1zM295 479h2v1h-2zM271 480h3v1h-3zM297 480h1v1h-1zM148 482h1v1h-1zM266 482h2v1h-2zM301 482h1v1h-1zM94 483h1v1h-1zM149 483h1v1h-1zM265 483h1v1h-1zM302 483h2v1h-2zM93 484h1v1h-1zM149 484h1v1h-1zM93 485h1v1h-1zM261 485h1v1h-1zM259 486h2v1h-2zM307 486h2v1h-2zM309 487h1v1h-1zM362 487h2v1h-2zM367 487h3v1h-3zM373 487h3v1h-3zM379 487h3v1h-3zM385 487h1v1h-1zM152 488h1v1h-1zM255 488h1v1h-1zM355 488h3v1h-3zM361 488h1v1h-1zM386 488h2v1h-2zM91 489h1v1h-1zM152 489h1v1h-1zM253 489h2v1h-2zM313 489h1v1h-1zM350 489h2v1h-2zM91 490h1v1h-1zM153 490h1v1h-1zM314 490h2v1h-2zM343 490h3v1h-3zM349 490h1v1h-1zM391 490h3v1h-3zM3 491h3v1h-3zM9 491h3v1h-3zM15 491h2v1h-2zM90 491h1v1h-1zM338 491h2v1h-2zM17 492h1v1h-1zM319 492h3v1h-3zM337 492h1v1h-1zM397 492h1v1h-1zM249 493h1v1h-1zM325 493h1v1h-1zM331 493h3v1h-3zM398 493h2v1h-2zM156 494h1v1h-1zM248 494h1v1h-1zM326 494h2v1h-2zM21 495h2v1h-2zM88 495h1v1h-1zM156 495h1v1h-1zM247 495h1v1h-1zM403 495h3v1h-3zM506 495h2v1h-2zM511 495h3v1h-3zM23 496h1v1h-1zM88 496h1v1h-1zM157 496h1v1h-1zM409 496h1v1h-1zM505 496h1v1h-1zM517 496h1v1h-1zM87 497h1v1h-1zM410 497h2v1h-2zM415 497h3v1h-3zM421 497h1v1h-1zM499 497h3v1h-3zM518 497h2v1h-2zM27 498h1v1h-1zM422 498h2v1h-2zM494 498h2v1h-2zM28 499h1v1h-1zM243 499h1v1h-1zM481 499h3v1h-3zM487 499h3v1h-3zM493 499h1v1h-1zM674 499h1v1h-1zM678 499h3v1h-3zM684 499h2v1h-2zM29 500h1v1h-1zM160 500h1v1h-1zM242 500h1v1h-1zM427 500h2v1h-2zM470 500h2v1h-2zM475 500h3v1h-3zM672 500h2v1h-2zM686 500h1v1h-1zM86 501h1v1h-1zM161 501h1v1h-1zM241 501h1v1h-1zM429 501h1v1h-1zM463 501h3v1h-3zM469 501h1v1h-1zM522 501h1v1h-1zM666 501h3v1h-3zM85 502h1v1h-1zM161 502h1v1h-1zM457 502h3v1h-3zM522 502h1v1h-1zM662 502h1v1h-1zM690 502h3v1h-3zM726 502h3v1h-3zM85 503h1v1h-1zM451 503h3v1h-3zM523 503h1v1h-1zM661 503h1v1h-1zM696 503h1v1h-1zM722 503h1v1h-1zM732 503h3v1h-3zM33 504h1v1h-1zM237 504h1v1h-1zM433 504h2v1h-2zM660 504h1v1h-1zM697 504h1v1h-1zM720 504h2v1h-2zM34 505h1v1h-1zM236 505h1v1h-1zM435 505h1v1h-1zM698 505h1v1h-1zM714 505h3v1h-3zM35 506h1v1h-1zM165 506h1v1h-1zM235 506h1v1h-1zM446 506h2v1h-2zM656 506h1v1h-1zM702 506h3v1h-3zM708 506h3v1h-3zM63 507h2v1h-2zM83 507h1v1h-1zM165 507h1v1h-1zM439 507h3v1h-3zM445 507h1v1h-1zM525 507h1v1h-1zM655 507h1v1h-1zM58 508h2v1h-2zM65 508h1v1h-1zM82 508h1v1h-1zM166 508h1v1h-1zM231 508h1v1h-1zM525 508h1v1h-1zM654 508h1v1h-1zM39 509h2v1h-2zM57 509h1v1h-1zM81 509h1v1h-1zM229 509h2v1h-2zM526 509h1v1h-1zM41 510h1v1h-1zM51 510h3v1h-3zM69 510h1v1h-1zM45 511h1v1h-1zM70 511h2v1h-2zM46 512h2v1h-2zM77 512h1v1h-1zM169 512h1v1h-1zM225 512h1v1h-1zM649 512h2v1h-2zM75 513h2v1h-2zM170 513h1v1h-1zM223 513h2v1h-2zM528 513h1v1h-1zM648 513h1v1h-1zM171 514h1v1h-1zM528 514h1v1h-1zM529 515h1v1h-1zM219 516h1v1h-1zM217 517h2v1h-2zM644 517h1v1h-1zM175 518h1v1h-1zM643 518h1v1h-1zM176 519h1v1h-1zM530 519h1v1h-1zM642 519h1v1h-1zM177 520h1v1h-1zM213 520h1v1h-1zM531 520h1v1h-1zM212 521h1v1h-1zM531 521h1v1h-1zM211 522h1v1h-1zM638 523h1v1h-1zM181 524h1v1h-1zM207 524h1v1h-1zM637 524h1v1h-1zM182 525h1v1h-1zM205 525h2v1h-2zM532 525h1v1h-1zM636 525h1v1h-1zM183 526h1v1h-1zM533 526h1v1h-1zM533 527h1v1h-1zM187 528h2v1h-2zM199 528h3v1h-3zM189 529h1v1h-1zM632 529h1v1h-1zM193 530h3v1h-3zM631 530h1v1h-1zM534 531h1v1h-1zM630 531h1v1h-1zM535 532h1v1h-1zM535 533h1v1h-1zM625 534h2v1h-2zM624 535h1v1h-1zM536 537h1v1h-1zM537 538h1v1h-1zM620 538h1v1h-1zM537 539h1v1h-1zM619 539h1v1h-1zM618 540h1v1h-1zM538 543h1v1h-1zM613 543h2v1h-2zM538 544h1v1h-1zM612 544h1v1h-1zM539 545h1v1h-1zM608 548h1v1h-1zM540 549h1v1h-1zM607 549h1v1h-1zM541 550h1v1h-1zM606 550h1v1h-1zM541 551h1v1h-1zM602 554h1v1h-1zM543 555h1v1h-1zM601 555h1v1h-1zM544 556h1v1h-1zM601 556h1v1h-1zM544 557h1v1h-1zM597 560h1v1h-1zM547 561h1v1h-1zM596 561h1v1h-1zM548 562h1v1h-1zM595 562h1v1h-1zM549 563h1v1h-1zM591 566h1v1h-1zM553 567h2v1h-2zM589 567h2v1h-2zM555 568h1v1h-1zM559 570h3v1h-3zM585 570h1v1h-1zM583 571h2v1h-2zM565 572h1v1h-1zM578 572h2v1h-2zM566 573h2v1h-2zM571 573h3v1h-3zM577 573h1v1h-1z"/>
<g shape-rendering="crispEdges" fill="#000">
<path d="M2 2h759v1h-759z"/>
<path d="M2 448h759v1h-759z"/>
<path d="M2 2v447h1v-447z"/>
<path d="M760 2v447h1v-447z"/>
<path d="M2 450h759v1h-759z"/>
<path d="M2 582h759v1h-759z"/>
<path d="M2 450v133h1v-133z"/>
<path d="M760 450v133h1v-133z"/>
<rect x="761" y="69" width="2" height="1"/>
<rect x="761" y="110" width="2" height="1"/>
<rect x="761" y="143" width="2" height="1"/>
<rect x="761" y="184" width="2" height="1"/>
<rect x="761" y="217" width="2" height="1"/>
<rect x="761" y="258" width="2" height="1"/>
<rect x="761" y="291" width="2" height="1"/>
<rect x="761" y="332" width="2" height="1"/>
<rect x="761" y="406" width="2" height="1"/>
<rect x="761" y="439" width="2" height="1"/>
<rect x="761" y="37" width="1" height="1"/>
<rect x="761" y="90" width="1" height="1"/>
<rect x="761" y="232" width="1" height="1"/>
<rect x="761" y="364" width="1" height="1"/>
<rect x="761" y="433" width="1" height="1"/>
<rect x="761" y="288" width="1" height="1"/>
<rect x="761" y="452" width="2" height="1"/>
<rect x="761" y="504" width="2" height="1"/>
<rect x="761" y="581" width="2" height="1"/>
<rect x="3" y="583" width="1" height="3"/>
<rect x="67" y="583" width="1" height="3"/>
<rect x="131" y="583" width="1" height="3"/>
<rect x="195" y="583" width="1" height="3"/>
<rect x="259" y="583" width="1" height="3"/>
<rect x="323" y="583" width="1" height="3"/>
<rect x="387" y="583" width="1" height="3"/>
<rect x="451" y="583" width="1" height="3"/>
<rect x="515" y="583" width="1" height="3"/>
<rect x="579" y="583" width="1" height="3"/>
<rect x="643" y="583" width="1" height="3"/>
<rect x="707" y="583" width="1" height="3"/>
</g>
<text x="765.8" y="71.7" textLength="28.6" lengthAdjust="spacingAndGlyphs">1.2580</text>
<text x="765.8" y="112.7" textLength="28.6" lengthAdjust="spacingAndGlyphs">1.2555</text>
<text x="765.8" y="145.7" textLength="28.6" lengthAdjust="spacingAndGlyphs">1.2535</text>
<text x="765.8" y="186.7" textLength="28.6" lengthAdjust="spacingAndGlyphs">1.2510</text>
<text x="765.8" y="219.7" textLength="28.6" lengthAdjust="spacingAndGlyphs">1.2490</text>
<text x="765.8" y="260.7" textLength="28.6" lengthAdjust="spacingAndGlyphs">1.2465</text>
<text x="765.8" y="293.7" textLength="28.6" lengthAdjust="spacingAndGlyphs">1.2445</text>
<text x="765.8" y="334.7" textLength="28.6" lengthAdjust="spacingAndGlyphs">1.2420</text>
<text x="765.8" y="408.7" textLength="28.6" lengthAdjust="spacingAndGlyphs">1.2375</text>
<text x="765.8" y="441.7" textLength="28.6" lengthAdjust="spacingAndGlyphs">1.2355</text>
<text x="763.3" y="460.7" textLength="33.6" lengthAdjust="spacingAndGlyphs">0.00614</text>
<text x="763.3" y="506.7" textLength="18.2" lengthAdjust="spacingAndGlyphs">0.00</text>
<text x="763.6" y="578.7" textLength="37" lengthAdjust="spacingAndGlyphs">-0.00905</text>
<g shape-rendering="crispEdges">
<rect x="762" y="31" width="36" height="11" fill="#FF0000"/>
<rect x="762" y="84" width="36" height="11" fill="#FF0000"/>
<rect x="762" y="226" width="36" height="11" fill="#FF0000"/>
<rect x="762" y="358" width="36" height="11" fill="#FF0000"/>
<rect x="762" y="427" width="36" height="11" fill="#FF0000"/>
<rect x="762" y="282" width="36" height="11" fill="#000"/>
</g>
<text x="765.8" y="39.7" class="w" textLength="28.6" lengthAdjust="spacingAndGlyphs">1.2600</text>
<text x="765.8" y="92.7" class="w" textLength="28.6" lengthAdjust="spacingAndGlyphs">1.2568</text>
<text x="765.8" y="234.7" class="w" textLength="28.6" lengthAdjust="spacingAndGlyphs">1.2481</text>
<text x="765.8" y="366.7" class="w" textLength="28.6" lengthAdjust="spacingAndGlyphs">1.2401</text>
<text x="765.8" y="435.7" class="w" textLength="28.6" lengthAdjust="spacingAndGlyphs">1.2359</text>
<text x="765.8" y="290.7" class="w" textLength="28.6" lengthAdjust="spacingAndGlyphs">1.2447</text>
<path shape-rendering="crispEdges" d="M6 9h7v1h-7zM7 10h5v1h-5zM8 11h3v1h-3zM9 12h1v1h-1z" fill="#000"/>
<text x="18" y="13.7" textLength="54.2" lengthAdjust="spacingAndGlyphs">EURUSD,H1</text>
<text x="77.8" y="13.7" textLength="28.2" lengthAdjust="spacingAndGlyphs">1.2412</text>
<text x="108.8" y="13.7" textLength="28.2" lengthAdjust="spacingAndGlyphs">1.2452</text>
<text x="139.8" y="13.7" textLength="28.2" lengthAdjust="spacingAndGlyphs">1.2411</text>
<text x="170.8" y="13.7" textLength="28.2" lengthAdjust="spacingAndGlyphs">1.2447</text>
<text x="7.4" y="462.7" textLength="61" lengthAdjust="spacingAndGlyphs">MACD(5,34,5)</text>
<text x="70.6" y="462.7" textLength="33.3" lengthAdjust="spacingAndGlyphs">0.00027</text>
<text x="106.2" y="462.7" textLength="33.3" lengthAdjust="spacingAndGlyphs">0.00015</text>
<text x="6.9" y="577.7" textLength="232.5" lengthAdjust="spacingAndGlyphs">MetaTrader, &#169; 2001-2014, MetaQuotes Software Corp.</text>
<text x="2.3" y="594.7" textLength="53.9" lengthAdjust="spacingAndGlyphs">13 Nov 2014</text>
<text x="66.3" y="594.7" textLength="56.7" lengthAdjust="spacingAndGlyphs">14 Nov 15:00</text>
<text x="130.3" y="594.7" textLength="56.7" lengthAdjust="spacingAndGlyphs">17 Nov 08:00</text>
<text x="194.3" y="594.7" textLength="56.7" lengthAdjust="spacingAndGlyphs">18 Nov 00:00</text>
<text x="258.3" y="594.7" textLength="56.7" lengthAdjust="spacingAndGlyphs">18 Nov 16:00</text>
<text x="322.3" y="594.7" textLength="56.7" lengthAdjust="spacingAndGlyphs">19 Nov 08:00</text>
<text x="386.3" y="594.7" textLength="56.7" lengthAdjust="spacingAndGlyphs">20 Nov 00:00</text>
<text x="450.3" y="594.7" textLength="56.7" lengthAdjust="spacingAndGlyphs">20 Nov 16:00</text>
<text x="514.3" y="594.7" textLength="56.7" lengthAdjust="spacingAndGlyphs">21 Nov 08:00</text>
<text x="578.3" y="594.7" textLength="56.7" lengthAdjust="spacingAndGlyphs">24 Nov 01:00</text>
<text x="642.3" y="594.7" textLength="56.7" lengthAdjust="spacingAndGlyphs">24 Nov 17:00</text>
<text x="706.3" y="594.7" textLength="56.7" lengthAdjust="spacingAndGlyphs">25 Nov 09:00</text>
</svg>
</body></html>
